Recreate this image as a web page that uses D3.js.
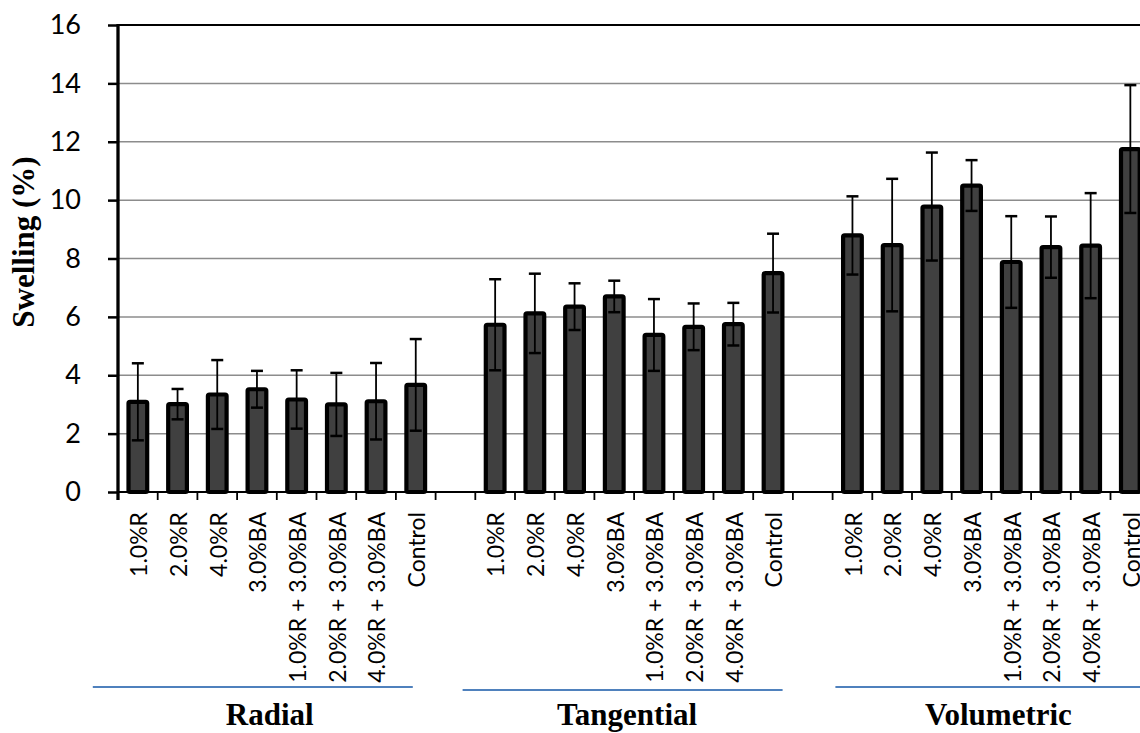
<!DOCTYPE html>
<html>
<head>
<meta charset="utf-8">
<script src="https://cdn.jsdelivr.net/npm/d3@7"></script>
<style>
  html, body { margin: 0; padding: 0; background: #fff; }
  svg { display: block; }
</style>
</head>
<body>
<svg id="chart" width="1140" height="733"></svg>
<script>
// ---- data ----
const groups = ["Radial", "Tangential", "Volumetric"];
const treatments = ["1.0%R", "2.0%R", "4.0%R", "3.0%BA", "1.0%R + 3.0%BA", "2.0%R + 3.0%BA", "4.0%R + 3.0%BA", "Control"];
const radialMean = [3.09, 3.01, 3.34, 3.52, 3.17, 3.00, 3.11, 3.67];
const radialSD = [1.32, 0.52, 1.18, 0.63, 1.00, 1.08, 1.31, 1.57];
const tangentialMean = [5.73, 6.12, 6.35, 6.70, 5.38, 5.66, 5.75, 7.50];
const tangentialSD = [1.56, 1.36, 0.80, 0.54, 1.23, 0.80, 0.73, 1.35];
const volumetricMean = [8.79, 8.46, 9.78, 10.50, 7.88, 8.39, 8.44, 11.75];
const volumetricSD = [1.34, 2.27, 1.85, 0.87, 1.57, 1.05, 1.80, 2.19];
const yTicks = [0, 2, 4, 6, 8, 10, 12, 14, 16];
const yTitle = "Swelling (%)";

(function () {
// ---- build records ----
const means = [radialMean, tangentialMean, volumetricMean];
const sds = [radialSD, tangentialSD, volumetricSD];
const slotsPerGroup = treatments.length + 1; // one empty slot between groups
const nSlots = groups.length * slotsPerGroup - 1;
const records = [];
groups.forEach((g, gi) => {
  treatments.forEach((t, ti) => {
    records.push({ group: g, gi, label: t, slot: gi * slotsPerGroup + ti, mean: means[gi][ti], sd: sds[gi][ti] });
  });
});

// ---- layout ----
const plotLeft = 118, plotTop = 25, plotBottom = 492;
const slotW = 39.7;
const svg = d3.select("#chart");

const x = d3.scaleBand()
  .domain(d3.range(nSlots))
  .range([plotLeft, plotLeft + nSlots * slotW])
  .paddingInner(0).paddingOuter(0);
const y = d3.scaleLinear().domain([0, 16]).range([plotBottom, plotTop]);

// gridlines
svg.append("g").selectAll("line")
  .data(yTicks.filter(v => v > 0))
  .join("line")
  .attr("x1", plotLeft).attr("x2", 1140)
  .attr("y1", d => y(d)).attr("y2", d => y(d))
  .attr("stroke", d => d === 16 ? "#000" : "#8c8c8c")
  .attr("stroke-width", d => d === 16 ? 1.8 : 1.5);

// y axis
const yAxis = d3.axisLeft(y).tickValues(yTicks).tickSize(10).tickPadding(27).tickFormat(d3.format("d"));
const gy = svg.append("g").attr("transform", `translate(${plotLeft},0)`).call(yAxis);
gy.select(".domain").remove();
gy.selectAll(".tick line").attr("stroke", "#000").attr("stroke-width", 2.5);
gy.selectAll(".tick text")
  .attr("font-family", "Lato, 'Open Sans', sans-serif")
  .attr("font-size", 27)
  .attr("fill", "#000");

// bars
const barW = 18.7;
svg.append("g").selectAll("rect")
  .data(records)
  .join("rect")
  .attr("x", d => x(d.slot) + (x.bandwidth() - barW) / 2)
  .attr("y", d => y(d.mean))
  .attr("width", barW)
  .attr("height", d => y(0) - y(d.mean))
  .attr("rx", 1.5)
  .attr("fill", "#404040")
  .attr("stroke", "#000")
  .attr("stroke-width", 4.2)
  .attr("stroke-linejoin", "round");

// error bars
const eg = svg.append("g").attr("stroke", "#000").attr("stroke-width", 1.8);
const cap = 6;
records.forEach(d => {
  const cx = x(d.slot) + x.bandwidth() / 2;
  eg.append("line").attr("x1", cx).attr("x2", cx).attr("y1", y(d.mean + d.sd)).attr("y2", y(d.mean - d.sd));
  eg.append("line").attr("x1", cx - cap).attr("x2", cx + cap).attr("y1", y(d.mean + d.sd)).attr("y2", y(d.mean + d.sd)).attr("stroke-width", 2.5);
  eg.append("line").attr("x1", cx - cap).attr("x2", cx + cap).attr("y1", y(d.mean - d.sd)).attr("y2", y(d.mean - d.sd)).attr("stroke-width", 2.5);
});

// x axis line + ticks at slot boundaries
svg.append("line")
  .attr("x1", plotLeft).attr("x2", 1140)
  .attr("y1", plotBottom).attr("y2", plotBottom)
  .attr("stroke", "#000").attr("stroke-width", 2.2);
svg.append("g").selectAll("line")
  .data(d3.range(nSlots + 1))
  .join("line")
  .attr("x1", i => plotLeft + i * x.step()).attr("x2", i => plotLeft + i * x.step())
  .attr("y1", plotBottom).attr("y2", plotBottom + 8)
  .attr("stroke", "#000").attr("stroke-width", 1.8);

// y axis line
svg.append("line")
  .attr("x1", plotLeft).attr("x2", plotLeft)
  .attr("y1", plotTop - 1).attr("y2", plotBottom + 8)
  .attr("stroke", "#000").attr("stroke-width", 3.3);

// x category labels (rotated)
svg.append("g").selectAll("text")
  .data(records)
  .join("text")
  .attr("transform", d => `translate(${x(d.slot) + x.bandwidth() / 2 + 1},512) rotate(-90)`)
  .attr("dy", "0.36em")
  .attr("text-anchor", "end")
  .attr("font-family", "Lato, 'Open Sans', sans-serif")
  .attr("font-size", 23)
  .attr("fill", "#000")
  .text(d => d.label);

// group underline rules and group titles
const ruleOffset = [-24, -11.5, 4];
const ruleY = [687, 690, 687];
const titleOffset = [-7, -7, 7];
groups.forEach((g, gi) => {
  const first = x(gi * slotsPerGroup);
  const last = x(gi * slotsPerGroup + treatments.length - 1) + x.bandwidth();
  const c = (first + last) / 2;
  svg.append("line")
    .attr("x1", c + ruleOffset[gi] - 160).attr("x2", c + ruleOffset[gi] + 160)
    .attr("y1", ruleY[gi]).attr("y2", ruleY[gi])
    .attr("stroke", "#4f81bd").attr("stroke-width", 2);
  svg.append("text")
    .attr("x", c + titleOffset[gi]).attr("y", 725)
    .attr("text-anchor", "middle")
    .attr("font-family", "'Liberation Serif', 'Times New Roman', serif")
    .attr("font-weight", "bold")
    .attr("font-size", 31)
    .attr("fill", "#000")
    .text(g);
});

// y axis title
svg.append("text")
  .attr("transform", "translate(23,242) rotate(-90)")
  .attr("dy", "0.35em")
  .attr("text-anchor", "middle")
  .attr("font-family", "'Liberation Serif', 'Times New Roman', serif")
  .attr("font-weight", "bold")
  .attr("font-size", 31)
  .attr("fill", "#000")
  .text(yTitle);
})();
</script>
</body>
</html>
